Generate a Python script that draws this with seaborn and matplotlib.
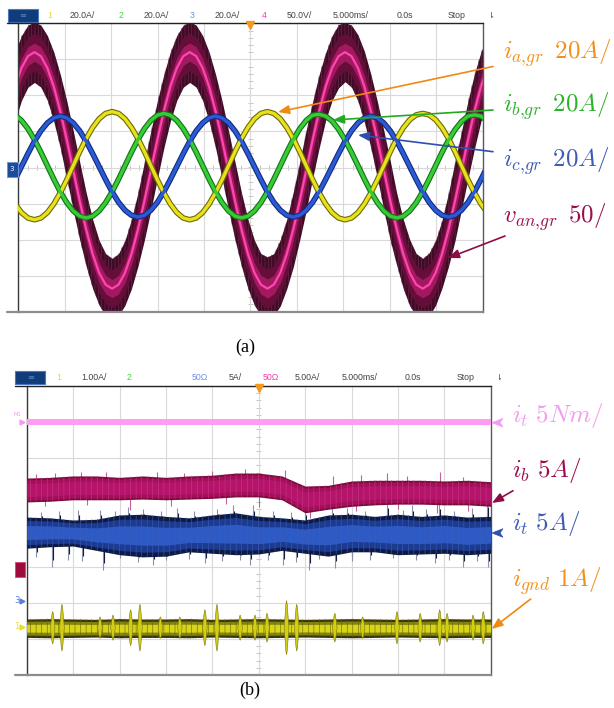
import numpy as np
import pandas as pd
import matplotlib
matplotlib.use("Agg")
import matplotlib.pyplot as plt
import seaborn as sns
from matplotlib.patches import Rectangle, Polygon
from matplotlib.collections import LineCollection

# ======================= DATA : panel (a) =======================
MS_PER_DIV = 5.0
A_T0_MS, A_DT_MS = -0.355, 0.697          # sampling of the traces
ia_gr = [-20.2, -25.0, -28.0, -29.0, -28.0, -25.0, -20.2, -14.0, -6.8, 1.0, 8.8, 16.0, 22.2, 27.0, 30.0,
         31.0, 30.0, 27.0, 22.2, 16.0, 8.8, 1.0, -6.8, -14.0, -20.2, -25.0, -28.0, -29.0, -28.0, -25.0,
         -20.2, -14.0, -6.8, 1.0, 8.8, 16.0, 22.2, 27.0, 30.0,
         31.0, 30.0, 27.0, 22.2, 16.0, 8.8, 1.0, -6.8, -14.0, -20.2, -25.0, -28.0, -29.0, -28.0, -25.0,
         -20.2, -14.0, -6.8, 1.0, 8.8, 16.0, 22.0, 26.5, 29.2,
         30.0, 29.2, 26.5, 22.0, 16.0, 8.8, 1.0, -6.8, -14.0, -20.2, -25.0]
ib_gr = [29.0, 26.1, 21.5, 15.5, 8.5, 1.0, -6.5, -13.5, -19.5, -24.1, -27.0, -28.0, -27.0, -24.1, -19.5,
         -13.5, -6.5, 1.0, 8.5, 15.5, 21.5, 26.1, 29.0,
         30.0, 29.0, 26.1, 21.5, 15.5, 8.5, 1.0, -6.5, -13.5, -19.5, -24.1, -27.0, -28.0, -27.0, -24.1,
         -19.5, -13.5, -6.5, 1.0, 8.5, 15.5, 21.5, 26.1, 29.0,
         29.5, 28.5, 25.8, 21.2, 15.3, 8.4, 1.0, -6.5, -13.5, -19.5, -24.1, -27.0, -28.0, -27.0, -24.1,
         -19.5, -13.5, -6.5, 1.0, 8.5, 15.2, 21.0, 25.5, 28.5,
         29.2, 28.5, 25.8]
ic_gr = [-6.7, 0.5, 7.7, 14.5, 20.3, 24.7, 27.5,
         28.5, 27.5, 24.7, 20.3, 14.5, 7.7, 0.5, -6.7, -13.5, -19.3, -23.7, -26.5, -27.5, -26.5, -23.7,
         -19.3, -13.5, -6.7, 0.5, 7.7, 14.5, 20.3, 24.7, 27.5,
         28.5, 27.5, 24.7, 20.3, 14.5, 7.7, 0.5, -6.7, -13.5, -19.3, -23.7, -26.5, -27.5, -26.5, -23.7,
         -19.3, -13.5, -6.7, 0.5, 7.7, 14.5, 20.3, 24.7, 27.5,
         28.5, 27.5, 24.7, 20.3, 14.5, 7.7, 0.5, -6.7, -13.5, -19.3, -23.7, -26.5, -27.5, -26.5, -23.7,
         -19.3, -13.5, -6.7, 0.5]
van_gr = [112.0, 138.0, 154.4, 160.0, 154.4, 138.0, 112.0, 78.0, 38.4, -4.0, -46.4, -86.0, -120.0, -146.0, -162.4,
          -168.0, -162.4, -146.0, -120.0, -86.0, -46.4, -4.0, 38.4, 78.0, 112.0, 138.0, 154.4, 160.0, 154.4,
          138.0, 112.0, 78.0, 38.4, -4.0, -46.4, -86.0, -120.0, -146.0, -162.4,
          -168.0, -162.4, -146.0, -120.0, -86.0, -46.4, -4.0, 38.4, 78.0, 112.0, 138.0, 154.4, 160.0, 154.4,
          138.0, 112.0, 78.0, 38.4, -4.0, -46.4, -86.0, -120.0, -146.0, -162.4,
          -168.0, -162.4, -146.0, -120.0, -86.0, -46.4, -4.0, 38.4, 78.0, 112.0, 138.0]
van_noise = [48, 45, 43, 42, 43, 45, 48, 51, 54, 55, 54, 51, 48, 45, 43,
             42, 43, 45, 48, 51, 54, 55, 54, 51, 48, 45, 43, 42, 43, 45, 48, 51, 54, 55, 54, 51, 48, 45, 43,
             44, 43, 46, 48, 52, 54, 56, 53, 51, 47, 45, 44, 41, 43, 46, 49, 51, 53, 55, 55, 50, 48, 46, 43,
             42, 44, 45, 47, 51, 55, 54, 54, 52, 48, 45]
VDIV_A = {"ia": 20.0, "ib": 20.0, "ic": 20.0, "van": 50.0}

HEADER_A = ["1", "20.0A/", "2", "20.0A/", "3", "20.0A/", "4", "50.0V/", "5.000ms/", "0.0s", "Stop"]
HEADER_B = ["1", "1.00A/", "2", "50Ω", "5A/", "50Ω", "5.00A/", "5.000ms/", "0.0s", "Stop"]
LABELS_A = [r"$i_{a{,}gr}\ \,20A/$", r"$i_{b{,}gr}\ \,20A/$", r"$i_{c{,}gr}\ \,20A/$", r"$v_{an{,}gr}\ \,50/$"]
LABELS_B = [r"$i_t\ 5Nm/$", r"$i_b\ 5A/$", r"$i_t\ 5A/$", r"$i_{gnd}\ 1A/$"]

# ======================= DATA : panel (b) =======================
B_T0_MS, B_DT_MS = 0.0, 2.5
torque_nm = [15.0, 15.0, 15.0, 15.0, 15.0, 15.0, 15.0, 15.0, 15.0, 15.0, 15.0,
             15.0, 15.0, 15.0, 15.0, 15.0, 15.0, 15.0, 15.0, 15.0, 15.0]
ib_hi = [12.6, 12.7, 12.9, 12.9, 12.7, 12.9, 12.7, 12.9, 13.0, 13.3, 13.3, 12.9, 11.5, 11.6, 12.2, 12.3, 12.3, 12.3, 12.2, 12.3, 12.1]
ib_lo = [9.3, 9.4, 9.6, 9.6, 9.6, 9.7, 9.6, 9.7, 9.8, 10.0, 10.0, 9.6, 7.8, 8.3, 8.7, 8.9, 9.0, 9.0, 8.9, 8.9, 8.7]
it_hi = [11.9, 11.8, 11.5, 11.6, 12.2, 12.3, 12.0, 11.8, 12.2, 12.5, 12.0, 11.8, 11.5, 12.2, 12.3, 12.0, 12.3, 12.0, 12.2, 11.9, 12.0]
it_lo = [7.6, 7.8, 7.9, 7.3, 6.7, 6.4, 6.5, 7.1, 6.9, 6.7, 6.8, 7.3, 6.9, 6.5, 7.1, 7.1, 6.7, 6.8, 6.9, 6.7, 6.9]
ignd_hi = [0.24, 0.25, 0.24, 0.23, 0.25, 0.24, 0.24, 0.25, 0.23, 0.24, 0.25, 0.24, 0.23, 0.24, 0.25, 0.24, 0.23, 0.24, 0.25, 0.24, 0.24]
ignd_lo = [-0.27, -0.28, -0.27, -0.26, -0.28, -0.27, -0.27, -0.28, -0.26, -0.27, -0.28, -0.27, -0.26, -0.27, -0.28, -0.27, -0.26, -0.27, -0.28, -0.27, -0.27]
ignd_burst_t = [2.8, 3.8, 7.9, 9.3, 11.2, 12.2, 14.4, 16.5, 19.2, 20.5, 23.0, 24.6, 25.9, 28.0, 29.1, 33.2, 36.2, 39.9, 42.4, 44.5, 45.3, 48.1, 49.2]
ignd_burst_a = [0.45, 0.65, 0.30, 0.35, 0.50, 0.65, 0.30, 0.30, 0.50, 0.65, 0.35, 0.35, 0.40, 0.75, 0.65, 0.40, 0.30, 0.45, 0.40, 0.50, 0.40, 0.35, 0.45]
it_spike_t = [2.7, 8.2, 13.6, 19.2, 24.1, 27.6, 30.4, 33.2, 44.0, 47.0, 49.7,
              1.0, 4.5, 6.0, 10.0, 12.0, 15.0, 17.5, 21.0, 23.0, 26.0, 29.0, 31.5, 35.0, 37.0, 39.5, 42.0, 45.5, 48.5,
              7.9, 10.9, 16.2, 22.2, 24.4, 32.9, 38.8, 41.5, 44.4, 49.6,
              1.5, 3.5, 5.5, 9.5, 12.5, 14.5, 18.0, 20.5, 26.5, 28.5, 30.0, 34.5, 36.5, 40.5, 43.0, 46.0, 48.0]
it_spike_v = [5.0, 4.6, 5.3, 5.5, 5.3, 5.3, 4.6, 4.9, 5.5, 5.0, 5.0,
              6.4, 6.0, 5.8, 6.2, 5.7, 5.9, 6.1, 5.8, 6.0, 5.9, 5.7, 6.1, 5.8, 6.0, 6.2, 5.9, 6.0, 5.8,
              12.9, 13.3, 13.2, 13.6, 13.6, 13.3, 14.0, 13.6, 13.9, 14.3,
              12.6, 12.8, 12.9, 12.7, 13.0, 12.8, 12.7, 13.0, 12.8, 12.6, 12.9, 13.1, 12.8, 12.9, 13.0, 12.7, 13.1]
ib_spike_t = [5.8, 27.8, 38.8, 44.5, 1.0, 3.0, 8.5, 14.0, 17.0, 20.0, 23.5, 33.0, 36.0, 41.0, 47.0,
              11.1, 30.5, 44.2, 2.0, 6.5, 15.5, 21.5, 25.0, 35.5, 40.0, 47.5]
ib_spike_v = [13.5, 13.7, 13.3, 13.4, 13.2, 13.3, 13.4, 13.5, 13.3, 13.6, 13.8, 12.9, 13.0, 12.9, 12.8,
              8.2, 7.1, 7.8, 8.7, 8.9, 8.8, 9.0, 8.6, 8.1, 8.3, 8.0]
VDIV_B = {"torque": 5.0, "ib": 5.0, "it": 5.0, "ignd": 1.0}
GND_B = {"torque": 0.0, "ib": -1.07, "it": -2.01, "ignd": -2.69}   # ground-marker positions (div)

# ======================= FIGURE =======================
sns.set_theme(style="white")
plt.rcParams["font.family"] = ["DejaVu Sans"]
plt.rcParams["mathtext.fontset"] = "cm"
plt.rcParams["hatch.linewidth"] = 0.4

W, H = 614, 708
fig = plt.figure(figsize=(W / 100, H / 100), dpi=100)
fig.patch.set_facecolor("white")


def px_axes(x0, y0, x1, y1):
    return fig.add_axes([x0 / W, 1 - y1 / H, (x1 - x0) / W, (y1 - y0) / H])


def scope_axes(ax):
    ax.set_facecolor("white")
    ax.set_xlim(0, 10)
    ax.set_ylim(-4, 4)
    ax.set_xticks(range(11))
    ax.set_yticks(range(-4, 5))
    ax.grid(True, color="#d9d9d9", lw=0.8, zorder=0)
    ax.tick_params(length=0, labelbottom=False, labelleft=False)
    ax.set_xlabel("")
    ax.set_ylabel("")
    segs = [[(x, -0.06), (x, 0.06)] for x in np.arange(0.2, 10, 0.2)]
    segs += [[(4.94, y), (5.06, y)] for y in np.arange(-3.8, 4, 0.2)]
    ax.add_collection(LineCollection(segs, colors="#c4c4c4", lw=0.7, zorder=0.5))
    for s in ("top", "bottom"):
        ax.spines[s].set_visible(False)
    ax.spines["left"].set_color("#3a3a3a")
    ax.spines["right"].set_color("#5a5a5a")
    ax.spines["left"].set_linewidth(1.0)
    ax.spines["right"].set_linewidth(1.0)


# ---------------- panel (a) ----------------
axA = px_axes(18.3, 23.3, 482.5, 311.7)
tA = (A_T0_MS + A_DT_MS * np.arange(len(ia_gr))) / MS_PER_DIV
dfA = pd.DataFrame({
    "t": tA,
    "ia": np.array(ia_gr) / VDIV_A["ia"],
    "ib": np.array(ib_gr) / VDIV_A["ib"],
    "ic": np.array(ic_gr) / VDIV_A["ic"],
    "van": np.array(van_gr) / VDIV_A["van"],
    "vn": np.array(van_noise) / VDIV_A["van"],
})
axA.fill_between(dfA.t, dfA.van - dfA.vn, dfA.van + dfA.vn, color="#430a27", lw=0, zorder=2)
axA.fill_between(dfA.t, dfA.van - dfA.vn, dfA.van + dfA.vn, facecolor="none",
                 edgecolor="#633450", hatch="|||||", lw=0, zorder=2.1)
axA.fill_between(dfA.t, dfA.van - 0.62 * dfA.vn, dfA.van + 0.62 * dfA.vn, color="#650e3a", lw=0, zorder=2.15)
axA.fill_between(dfA.t, dfA.van - 0.3 * dfA.vn, dfA.van + 0.3 * dfA.vn, color="#a3195f", lw=0, zorder=2.2)
sns.lineplot(data=dfA, x="t", y="van", ax=axA, color="#ff45b2", lw=1.6, estimator=None, sort=False, zorder=2.5)
for col, dark, light in (("ia", "#6d6a05", "#e8e21c"), ("ib", "#17701a", "#35cc35"), ("ic", "#122c78", "#2a5ad8")):
    sns.lineplot(data=dfA, x="t", y=col, ax=axA, color=dark, lw=4.0, estimator=None, sort=False, zorder=3)
    sns.lineplot(data=dfA, x="t", y=col, ax=axA, color=light, lw=2.4, estimator=None, sort=False, zorder=3.1)
scope_axes(axA)

# ---------------- panel (b) ----------------
axB = px_axes(26.7, 386.0, 490.7, 675.0)
tB = (B_T0_MS + B_DT_MS * np.arange(len(ib_hi))) / MS_PER_DIV
dfB = pd.DataFrame({
    "t": tB,
    "torque": GND_B["torque"] + np.array(torque_nm) / VDIV_B["torque"],
    "ib_hi": GND_B["ib"] + np.array(ib_hi) / VDIV_B["ib"],
    "ib_lo": GND_B["ib"] + np.array(ib_lo) / VDIV_B["ib"],
    "it_hi": GND_B["it"] + np.array(it_hi) / VDIV_B["it"],
    "it_lo": GND_B["it"] + np.array(it_lo) / VDIV_B["it"],
    "ig_hi": GND_B["ignd"] + np.array(ignd_hi) / VDIV_B["ignd"],
    "ig_lo": GND_B["ignd"] + np.array(ignd_lo) / VDIV_B["ignd"],
})


def band(ax, t, lo, hi, outer, mid, core, hatch_col, z, f_mid=0.8, f_core=0.5):
    c = (lo + hi) / 2
    h = (hi - lo) / 2
    ax.fill_between(t, lo, hi, color=outer, lw=0, zorder=z)
    ax.fill_between(t, c - f_mid * h, c + f_mid * h, color=mid, lw=0, zorder=z + 0.1)
    ax.fill_between(t, c - f_core * h, c + f_core * h, color=core, lw=0, zorder=z + 0.2)
    ax.fill_between(t, lo, hi, facecolor="none", edgecolor=hatch_col, hatch="|||", lw=0, zorder=z + 0.3)


# spikes
tb_s = np.array(it_spike_t) / MS_PER_DIV
vb_s = GND_B["it"] + np.array(it_spike_v) / VDIV_B["it"]
cen_it = np.interp(tb_s, dfB.t, (dfB.it_hi + dfB.it_lo) / 2)
axB.vlines(tb_s, cen_it, vb_s, color="#8a92a8", lw=0.8, zorder=2.9)
axB.vlines(tb_s + 0.02, cen_it, cen_it + 0.8 * (vb_s - cen_it), color="#0d1638", lw=0.8, zorder=2.85)
tm_s = np.array(ib_spike_t) / MS_PER_DIV
vm_s = GND_B["ib"] + np.array(ib_spike_v) / VDIV_B["ib"]
cen_ib = np.interp(tm_s, dfB.t, (dfB.ib_hi + dfB.ib_lo) / 2)
axB.vlines(tm_s, cen_ib, vm_s, color="#c8609a", lw=0.8, zorder=2.9)

band(axB, dfB.t, dfB.it_lo, dfB.it_hi, "#0f1a44", "#1b3a90", "#2d5ac4", "#3c5fb8", 3, 0.78, 0.45)
band(axB, dfB.t, dfB.ib_lo, dfB.ib_hi, "#7a0a3c", "#a30f5a", "#b5146a", "#c33a82", 3.5, 0.85, 0.55)
band(axB, dfB.t, dfB.ig_lo, dfB.ig_hi, "#36360a", "#858312", "#d8d418", "#64620a", 4, 0.75, 0.42)

# ground-current bursts
for tb, a in zip(np.array(ignd_burst_t) / MS_PER_DIV, np.array(ignd_burst_a) / VDIV_B["ignd"]):
    g = GND_B["ignd"]
    w = 0.05
    axB.add_patch(Polygon([(tb - w, g), (tb - 0.015, g + 0.85 * a), (tb, g + a), (tb + 0.015, g + 0.85 * a),
                           (tb + w, g), (tb + 0.015, g - 0.85 * a), (tb, g - a), (tb - 0.015, g - 0.85 * a)],
                          closed=True, facecolor="#d2ce16", edgecolor="#7a780c", lw=0.4, zorder=4.5))

sns.lineplot(data=dfB, x="t", y="torque", ax=axB, color="#ff9cf2", lw=4.3, estimator=None, sort=False, zorder=5)
scope_axes(axB)

# ---------------- overlay (pixel coordinates) ----------------
ov = fig.add_axes([0, 0, 1, 1], zorder=10)
ov.set_xlim(0, W)
ov.set_ylim(H, 0)
ov.axis("off")

# frame lines
ov.plot([7, 483], [23.3, 23.3], color="#222222", lw=1.0)
ov.plot([7, 483], [311.7, 311.7], color="#8c8c8c", lw=1.6)
ov.plot([15, 491], [386.0, 386.0], color="#222222", lw=1.0)
ov.plot([15, 491], [675.0, 675.0], color="#8c8c8c", lw=1.6)

# header rows
hdr_font = dict(family="Liberation Sans", fontsize=6.3, va="center", ha="center")
colA = ["#e6df2a", "#444444", "#3fd23f", "#444444", "#6e90e6", "#444444", "#ef3fb0", "#444444", "#444444", "#444444", "#444444"]
xA = [50, 82, 121, 156, 192, 227, 264, 299, 351, 405, 457]
for s, c, x in zip(HEADER_A, colA, xA):
    ov.text(x, 15.5, s, color=c, **hdr_font)
colB = ["#e6df2a", "#444444", "#3fd23f", "#6e90e6", "#444444", "#ef3fb0", "#444444", "#444444", "#444444", "#444444"]
xB = [59, 94, 129, 200, 235, 271, 307, 360, 413, 466]
for s, c, x in zip(HEADER_B, colB, xB):
    ov.text(x, 377.5, s, color=c, **hdr_font)
for (bx, by) in ((7.5, 9.3), (15.3, 371.0)):
    ov.add_patch(Rectangle((bx, by), 30, 12.5, facecolor="#103c7c", edgecolor="#4a78c0", lw=0.8))
    ov.text(bx + 15, by + 6.5, "≡", color="#5f80b8", fontsize=6, ha="center", va="center")
ov.text(491, 15.5, "⇂", color="#444444", fontsize=6, ha="center", va="center")
ov.text(499, 377.5, "⇂", color="#444444", fontsize=6, ha="center", va="center")

# trigger markers
ov.plot([250.3], [25.2], marker="v", color="#f29a1c", ms=5.5, mec="#f29a1c")
ov.plot([258.7], [388.0], marker="v", color="#f29a1c", ms=5.5, mec="#f29a1c")

# channel markers
ov.add_patch(Rectangle((6.7, 161.7), 10.8, 15, facecolor="#1c4c9c", edgecolor="#7096d6", lw=0.7))
ov.text(12.1, 169.2, "3", color="white", fontsize=5, ha="center", va="center")
ov.text(17, 415, "M1", color="#f49af0", fontsize=3.8, ha="center", va="center")
ov.plot([21.5], [421.5], marker=">", color="#f49af0", ms=3.5)
ov.add_patch(Rectangle((14.5, 561.5), 10.5, 15.5, facecolor="#9c0c3c", edgecolor="#d84c88", lw=0.7))
ov.text(16.5, 600.5, "3", color="#5a7ee0", fontsize=6, ha="center", va="center")
ov.plot([22], [601], marker=">", color="#5a7ee0", ms=3.5)
ov.text(16.5, 626.5, "1", color="#e6df2a", fontsize=6, ha="center", va="center")
ov.plot([22], [626.5], marker=">", color="#e6df2a", ms=3.5)

# labels
colLA = ["#f39019", "#2db22d", "#3d5bb5", "#9b0d4f"]
yLA = [58.3, 111.7, 166.7, 223.0]
for s, c, y in zip(LABELS_A, colLA, yLA):
    ov.text(502.7, y, s, color=c, fontsize=18, ha="left", va="baseline")
colLB = ["#f29bef", "#9b0d4f", "#3d5bb5", "#f39019"]
yLB = [422.0, 476.7, 530.0, 586.7]
for s, c, y in zip(LABELS_B, colLB, yLB):
    ov.text(511.7, y, s, color=c, fontsize=18, ha="left", va="baseline")


def arrow(x0, y0, x1, y1, color):
    ov.annotate("", xy=(x1, y1), xytext=(x0, y0),
                arrowprops=dict(arrowstyle="-|>,head_length=0.55,head_width=0.22", color=color,
                                lw=1.2, shrinkA=0, shrinkB=0))


arrow(493, 66.5, 278, 112, "#f08a10")
arrow(493, 110, 333, 120, "#22aa22")
arrow(493, 151.7, 358, 135, "#2e4fb0")
arrow(505, 236, 448, 258, "#8e0c46")
arrow(513, 490.7, 492, 503, "#8e0c46")
arrow(530.7, 599, 491.7, 629, "#f08a10")
for y, c in ((422.7, "#f29bef"), (533.0, "#2e4fb0")):
    ov.add_patch(Polygon([(492, y), (503, y - 4.3), (500, y), (503, y + 4.3)], closed=True, facecolor=c, edgecolor=c, lw=0.5))

# captions
ov.text(245, 347, "(a)", family="Liberation Serif", fontsize=13, ha="center", va="center", color="black")
ov.text(250, 690, "(b)", family="Liberation Serif", fontsize=13, ha="center", va="center", color="black")

fig.savefig("out.png", dpi=100, facecolor="white")
